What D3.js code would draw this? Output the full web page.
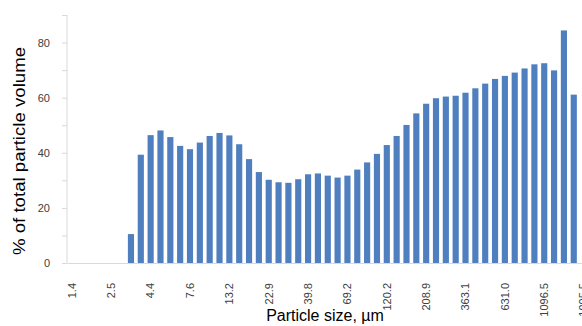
<!DOCTYPE html>
<html>
<head>
<meta charset="utf-8">
<script src="https://cdn.jsdelivr.net/npm/d3@7"></script>
<style>
  body { margin: 0; background: #fff; }
  svg { display: block; font-family: "Liberation Sans", Arial, sans-serif; }
</style>
</head>
<body>
<svg id="chart" width="582" height="326"></svg>
<script>
// Particle size bins, µm (log spaced)
const sizes = [
  '1.4', '1.7', '1.9', '2.2', '2.5', '2.9', '3.3', '3.8', '4.4', '5.0',
  '5.8', '6.6', '7.6', '8.7', '10.0', '11.5', '13.2', '15.1', '17.4', '20.0',
  '22.9', '26.3', '30.2', '34.7', '39.8', '45.7', '52.5', '60.3', '69.2', '79.4',
  '91.2', '104.7', '120.2', '138.0', '158.5', '182.0', '208.9', '239.9', '275.4', '316.2',
  '363.1', '416.9', '478.6', '549.5', '631.0', '724.4', '831.8', '955.0', '1096.5', '1258.9',
  '1445.4', '1659.6', '1905.5'
];

// % of total particle volume per bin
const volume = [
  0, 0, 0, 0, 0, 0, 10.5, 39.3, 46.4, 48.1,
  45.7, 42.5, 41.3, 43.7, 46.1, 47.2, 46.3, 43.1, 37.7, 33.0,
  30.2, 29.3, 29.1, 30.4, 32.2, 32.5, 31.7, 31.0, 31.7, 33.9,
  36.5, 39.6, 42.8, 46.1, 50.1, 54.3, 57.8, 59.8, 60.4, 60.7,
  61.8, 63.4, 65.1, 66.8, 67.9, 69.1, 70.6, 72.1, 72.5, 69.9,
  84.4, 61.1, 0
];

// only every 4th bin gets a label
const labelEvery = 4;
const yTicks = [0, 10, 20, 30, 40, 50, 60, 70, 80, 90];
const yLabels = [0, 20, 40, 60, 80];

const svg = d3.select('#chart');
const plotLeft = 67, plotTop = 15, plotBottom = 263;
const step = 9.84;

const x = d3.scaleBand()
  .domain(sizes)
  .range([plotLeft, plotLeft + step * sizes.length])
  .paddingInner(0.375)
  .paddingOuter(0.1875);

const y = d3.scaleLinear()
  .domain([0, 90])
  .range([plotBottom, plotTop]);

// y axis
const yAxis = svg.append('g')
  .attr('transform', `translate(${plotLeft},0)`)
  .call(d3.axisLeft(y).tickValues(yTicks).tickSize(5).tickFormat(d => yLabels.includes(d) ? d : ''));
yAxis.select('.domain').attr('stroke', '#d9d9d9').attr('d', `M0,${plotTop}V${plotBottom}`);
yAxis.selectAll('.tick line').attr('stroke', '#d9d9d9');
yAxis.selectAll('.tick text')
  .attr('x', -17)
  .attr('fill', '#404040')
  .style('font-size', '11px')
  .style('font-family', '"Liberation Sans", Arial, sans-serif');

// x axis
const xAxis = svg.append('g')
  .attr('transform', `translate(0,${plotBottom})`)
  .call(d3.axisBottom(x).tickSize(0).tickFormat((d, i) => i % labelEvery === 0 ? d : ''));
xAxis.select('.domain').attr('stroke', '#d9d9d9');
xAxis.selectAll('.tick text')
  .attr('transform', 'rotate(-90)')
  .attr('text-anchor', 'end')
  .attr('x', -20)
  .attr('y', 0)
  .attr('dy', '0.35em')
  .attr('fill', '#404040')
  .style('font-size', '11px')
  .style('font-family', '"Liberation Sans", Arial, sans-serif');

// bars
svg.append('g')
  .selectAll('rect')
  .data(volume.map((v, i) => ({ size: sizes[i], v })))
  .enter()
  .append('rect')
  .attr('x', d => x(d.size))
  .attr('width', x.bandwidth())
  .attr('y', d => y(d.v))
  .attr('height', d => y(0) - y(d.v))
  .attr('fill', '#4f7fbf');

// axis titles
svg.append('text')
  .attr('transform', 'translate(25,151) rotate(-90)')
  .attr('text-anchor', 'middle')
  .attr('textLength', 208)
  .attr('lengthAdjust', 'spacingAndGlyphs')
  .style('font-size', '17px')
  .attr('fill', '#000')
  .text('% of total particle volume');

svg.append('text')
  .attr('x', 325)
  .attr('y', 321)
  .attr('text-anchor', 'middle')
  .style('font-size', '16px')
  .attr('fill', '#000')
  .text('Particle size, µm');
</script>
</body>
</html>
